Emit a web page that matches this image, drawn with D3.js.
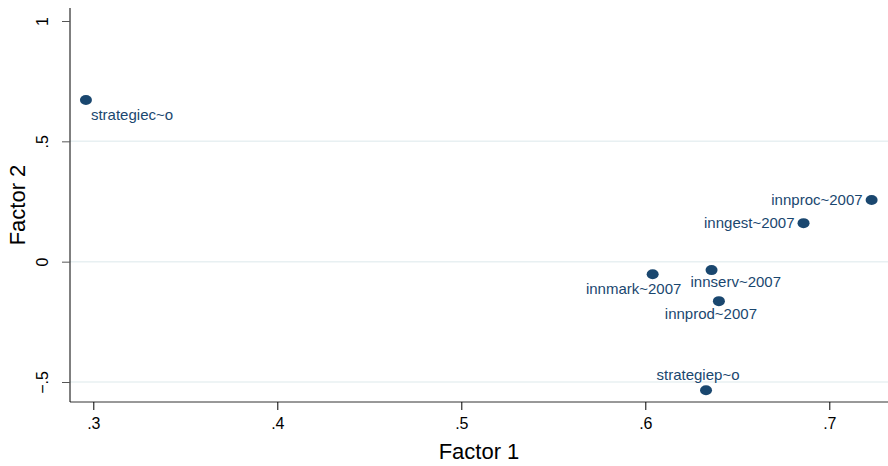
<!DOCTYPE html>
<html>
<head>
<meta charset="utf-8">
<script src="https://cdn.jsdelivr.net/npm/d3@7"></script>
<style>
  body { margin: 0; background: #fff; }
  text { font-family: "Liberation Sans", Arial, sans-serif; }
</style>
</head>
<body>
<div id="chart"></div>
<script>
// loadings
var names = ["strategiec~o", "innproc~2007", "inngest~2007", "innserv~2007", "innmark~2007", "innprod~2007", "strategiep~o"];
var factor1 = [0.296, 0.723, 0.686, 0.636, 0.604, 0.640, 0.633];
var factor2 = [0.672, 0.256, 0.160, -0.035, -0.052, -0.164, -0.534];
// label clock position, as in stata's mlabvposition
var labelPos = [4, 9, 9, 5, 7, 6, 12];
var xTicks = [0.3, 0.4, 0.5, 0.6, 0.7];
var yTicks = [-0.5, 0, 0.5, 1];

var width = 888, height = 466;
var margin = { top: 8, right: 0, bottom: 64, left: 70 };
var plotBottom = 402;

var svg = d3.select("#chart")
    .append("svg")
    .attr("width", width)
    .attr("height", height);

var x = d3.scaleLinear()
    .domain([0.3, 0.7])
    .range([93.3, 829.3]);

var y = d3.scaleLinear()
    .domain([-0.5, 1])
    .range([382, 21]);

// gridlines
svg.append("g")
    .selectAll("line")
    .data(yTicks.filter(function (d) { return d < 1; }))
    .enter()
    .append("line")
    .attr("x1", margin.left)
    .attr("x2", width)
    .attr("y1", function (d) { return y(d); })
    .attr("y2", function (d) { return y(d); })
    .attr("stroke", "#e8f0f2")
    .attr("stroke-width", 1.5);

var fmt = function (d) {
    if (d === 0) return "0";
    return d3.format(".1f")(d).replace("0.", ".").replace("1.0", "1");
};

// x axis
var xAxis = svg.append("g")
    .attr("transform", "translate(0," + plotBottom + ")")
    .call(d3.axisBottom(x).tickValues(xTicks).tickSize(8).tickPadding(8).tickFormat(fmt));
xAxis.select(".domain").attr("d", "M" + margin.left + ",0H" + width).attr("stroke", "#333");
xAxis.selectAll("text").attr("font-size", 16).attr("fill", "#000");

// y axis
var yAxis = svg.append("g")
    .attr("transform", "translate(" + margin.left + ",0)")
    .call(d3.axisLeft(y).tickValues(yTicks).tickSize(8).tickPadding(8).tickFormat(fmt));
yAxis.select(".domain").attr("d", "M0," + margin.top + "V" + plotBottom).attr("stroke", "#000");
yAxis.selectAll(".tick line").attr("stroke", "#555");
yAxis.selectAll("text")
    .attr("font-size", 16)
    .attr("fill", "#000")
    .attr("text-anchor", "middle")
    .attr("x", 0)
    .attr("dy", 0)
    .attr("transform", "translate(-22,0) rotate(-90)");

// axis titles
svg.append("text")
    .attr("x", (margin.left + width) / 2)
    .attr("y", 459)
    .attr("text-anchor", "middle")
    .attr("font-size", 22)
    .text("Factor 1");

svg.append("text")
    .attr("transform", "translate(25," + 205 + ") rotate(-90)")
    .attr("text-anchor", "middle")
    .attr("font-size", 22)
    .text("Factor 2");

// label offsets per clock position
var offsets = {
    4: { dx: 5, dy: 20, anchor: "start" },
    9: { dx: -9, dy: 5, anchor: "end" },
    5: { dx: -21, dy: 17, anchor: "start" },
    6: { dx: -8, dy: 18, anchor: "middle" },
    7: { dx: -19, dy: 20, anchor: "middle" },
    12: { dx: -8, dy: -10, anchor: "middle" }
};

var points = names.map(function (n, i) {
    return { name: n, f1: factor1[i], f2: factor2[i], pos: labelPos[i] };
});

svg.append("g")
    .selectAll("ellipse")
    .data(points)
    .enter()
    .append("ellipse")
    .attr("cx", function (d) { return x(d.f1); })
    .attr("cy", function (d) { return y(d.f2); })
    .attr("rx", 6)
    .attr("ry", 5)
    .attr("fill", "#1a476f");

svg.append("g")
    .selectAll("text")
    .data(points)
    .enter()
    .append("text")
    .attr("x", function (d) { return x(d.f1) + offsets[d.pos].dx; })
    .attr("y", function (d) { return y(d.f2) + offsets[d.pos].dy; })
    .attr("text-anchor", function (d) { return offsets[d.pos].anchor; })
    .attr("font-size", 15)
    .attr("fill", "#1a476f")
    .text(function (d) { return d.name; });
</script>
</body>
</html>
